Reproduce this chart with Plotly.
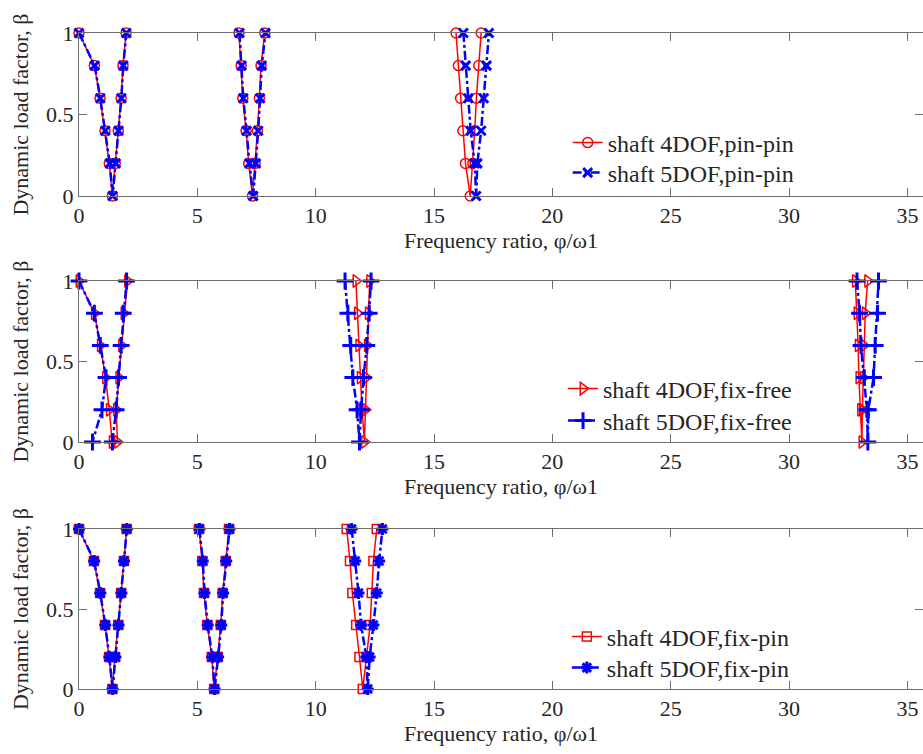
import plotly.graph_objects as go

# ---------------- data ----------------
beta_v = [1, 0.8, 0.6, 0.4, 0.2, 0, 0.2, 0.4, 0.6, 0.8, 1]
beta_down = [1, 0.8, 0.6, 0.4, 0.2, 0]
beta_up = [0, 0.2, 0.4, 0.6, 0.8, 1]

# pin-pin
pp4_v1 = [0, 0.65, 0.89, 1.10, 1.28, 1.41, 1.53, 1.66, 1.78, 1.86, 1.99]
pp4_v2 = [6.76, 6.85, 6.92, 7.06, 7.17, 7.33, 7.44, 7.54, 7.62, 7.69, 7.85]
pp4_v3 = [15.93, 16.03, 16.12, 16.22, 16.33, 16.53, 16.64, 16.72, 16.79, 16.89, 16.99]
pp5_v1 = [0, 0.66, 0.90, 1.11, 1.30, 1.42, 1.55, 1.67, 1.79, 1.87, 2.00]
pp5_v2 = [6.78, 6.87, 6.94, 7.08, 7.20, 7.36, 7.47, 7.57, 7.65, 7.72, 7.88]
pp5_v3 = [16.24, 16.34, 16.45, 16.55, 16.72, 16.78, 16.83, 16.99, 17.10, 17.22, 17.32]

# fix-free (left branch: beta 1 -> 0, right branch: beta 0 -> 1)
ff4_v1_left = [0, 0.65, 0.90, 1.12, 1.28, 1.40]
ff4_v1_right = [1.62, 1.58, 1.68, 1.80, 1.90, 2.05]
ff4_v2_left = [11.70, 11.76, 11.82, 11.88, 11.96, 12.06]
ff4_v2_right = [12.06, 12.10, 12.14, 12.18, 12.22, 12.28]
ff4_v3_left = [32.80, 32.87, 32.92, 32.95, 33.02, 33.08]
ff4_v3_right = [33.08, 33.10, 33.13, 33.16, 33.22, 33.32]
ff5_v1_left = [0, 0.65, 0.90, 1.14, 0.97, 0.57]
ff5_v1_right = [1.41, 1.57, 1.67, 1.78, 1.87, 2.01]
ff5_v2_left = [11.24, 11.36, 11.48, 11.57, 11.75, 11.85]
ff5_v2_right = [11.85, 11.92, 12.02, 12.16, 12.26, 12.34]
ff5_v3_left = [32.87, 32.98, 33.04, 33.18, 33.29, 33.33]
ff5_v3_right = [33.33, 33.35, 33.57, 33.64, 33.74, 33.78]

# fix-pin
fp4_v1 = [0, 0.63, 0.89, 1.10, 1.27, 1.41, 1.52, 1.66, 1.78, 1.90, 2.01]
fp4_v2 = [5.07, 5.21, 5.28, 5.42, 5.61, 5.71, 5.86, 5.99, 6.07, 6.20, 6.34]
fp4_v3 = [11.31, 11.45, 11.55, 11.71, 11.85, 11.99, 12.16, 12.30, 12.37, 12.44, 12.58]
fp5_v1 = [0, 0.64, 0.90, 1.11, 1.28, 1.42, 1.54, 1.67, 1.79, 1.90, 2.02]
fp5_v2 = [5.09, 5.23, 5.30, 5.44, 5.63, 5.73, 5.88, 6.01, 6.09, 6.22, 6.36]
fp5_v3 = [11.52, 11.67, 11.81, 11.92, 12.14, 12.20, 12.28, 12.44, 12.58, 12.68, 12.82]

x_ticks = [0, 5, 10, 15, 20, 25, 30, 35]
y_ticks = [0, 0.5, 1]
y_ticktext = ["0", "0.5", "1"]


def join(parts):
    xs, ys = [], []
    for i, (px, py) in enumerate(parts):
        if i:
            xs.append(None)
            ys.append(None)
        xs += list(px)
        ys += list(py)
    return xs, ys


FONT = "Liberation Serif, Times New Roman, serif"
RED = "#ff0000"
BLUE = "#0000ff"

fig = go.Figure()


def add_pair(x4, y4, x5, y5, name4, name5, sym4, sym5, size4, size5, axis_idx, leg4, leg5):
    xa = "x" if axis_idx == 1 else f"x{axis_idx}"
    ya = "y" if axis_idx == 1 else f"y{axis_idx}"
    fig.add_trace(go.Scatter(
        x=x4, y=y4, mode="lines+markers", name=name4, xaxis=xa, yaxis=ya,
        line=dict(color=RED, width=1.5),
        marker=dict(symbol=sym4, size=size4, color=RED, line=dict(color=RED, width=1.5)),
        cliponaxis=False, connectgaps=False, legend=leg4, showlegend=True))
    fig.add_trace(go.Scatter(
        x=x5, y=y5, mode="lines+markers", name=name5, xaxis=xa, yaxis=ya,
        line=dict(color=BLUE, width=2.5, dash="dashdot"),
        marker=dict(symbol=sym5, size=size5, color=BLUE, line=dict(color=BLUE, width=3)),
        cliponaxis=False, connectgaps=False, legend=leg5, showlegend=True))


x4, y4 = join([(pp4_v1, beta_v), (pp4_v2, beta_v), (pp4_v3, beta_v)])
x5, y5 = join([(pp5_v1, beta_v), (pp5_v2, beta_v), (pp5_v3, beta_v)])
add_pair(x4, y4, x5, y5, "shaft 4DOF,pin-pin", "shaft 5DOF,pin-pin",
         "circle-open", "x-thin-open", 10, 9, 1, "legend", "legend2")

x4, y4 = join([(ff4_v1_left, beta_down), (ff4_v1_right, beta_up),
               (ff4_v2_left + ff4_v2_right[1:], beta_down + beta_up[1:]),
               (ff4_v3_left + ff4_v3_right[1:], beta_down + beta_up[1:])])
x5, y5 = join([(ff5_v1_left, beta_down), (ff5_v1_right, beta_up),
               (ff5_v2_left + ff5_v2_right[1:], beta_down + beta_up[1:]),
               (ff5_v3_left + ff5_v3_right[1:], beta_down + beta_up[1:])])
add_pair(x4, y4, x5, y5, "shaft 4DOF,fix-free", "shaft 5DOF,fix-free",
         "triangle-right-open", "cross-thin-open", 11, 12, 2, "legend3", "legend4")

x4, y4 = join([(fp4_v1, beta_v), (fp4_v2, beta_v), (fp4_v3, beta_v)])
x5, y5 = join([(fp5_v1, beta_v), (fp5_v2, beta_v), (fp5_v3, beta_v)])
add_pair(x4, y4, x5, y5, "shaft 4DOF,fix-pin", "shaft 5DOF,fix-pin",
         "square-open", "asterisk-open", 9, 10, 3, "legend5", "legend6")

AX_COLOR = "#6e6e6e"
TXT = "#262626"
domains = [[0.75152, 1.0], [0.37652, 0.62195], [0.0, 0.24390]]

layout = dict(
    width=923, height=754,
    margin=dict(l=79, r=0, t=33, b=65, autoexpand=False),
    paper_bgcolor="white", plot_bgcolor="white",
    font=dict(family=FONT, size=22, color=TXT),
    showlegend=True,
)
for i, dom in enumerate(domains, start=1):
    suf = "" if i == 1 else str(i)
    layout[f"xaxis{suf}"] = dict(
        domain=[0, 1], range=[0, 35.66], tickvals=x_ticks,
        ticks="inside", ticklen=8, tickcolor=AX_COLOR, tickwidth=1,
        showline=True, linecolor=AX_COLOR, linewidth=1, mirror="ticks",
        showgrid=False, zeroline=False, anchor=f"y{suf}", automargin=False,
        tickfont=dict(family=FONT, size=22, color=TXT),
        title=dict(text="Frequency ratio, φ/ω1", font=dict(family=FONT, size=22, color=TXT), standoff=0),
    )
    layout[f"yaxis{suf}"] = dict(
        domain=dom, range=[0, 1], tickvals=y_ticks, ticktext=y_ticktext,
        ticks="inside", ticklen=8, tickcolor=AX_COLOR, tickwidth=1,
        showline=True, linecolor=AX_COLOR, linewidth=1, mirror="ticks",
        showgrid=False, zeroline=False, anchor=f"x{suf}", automargin=False,
        tickfont=dict(family=FONT, size=22, color=TXT),
        title=dict(text="Dynamic load factor, β", font=dict(family=FONT, size=22, color=TXT), standoff=11),
    )

leg_common = dict(bgcolor="rgba(0,0,0,0)", borderwidth=0, xanchor="left", yanchor="middle",
                  font=dict(family=FONT, size=24, color=TXT), visible=True)
legend_pos = [(0.579, 0.8323), (0.579, 0.7866),
              (0.5735, 0.4573), (0.5735, 0.4085),
              (0.578, 0.0793), (0.578, 0.0320)]
for k, (lx, ly) in enumerate(legend_pos, start=1):
    key = "legend" if k == 1 else f"legend{k}"
    layout[key] = dict(x=lx, y=ly, **leg_common)

fig.update_layout(**layout)
fig.write_html("out.html", post_script="document.body.style.margin='0px';",
               config={"displayModeBar": False})
